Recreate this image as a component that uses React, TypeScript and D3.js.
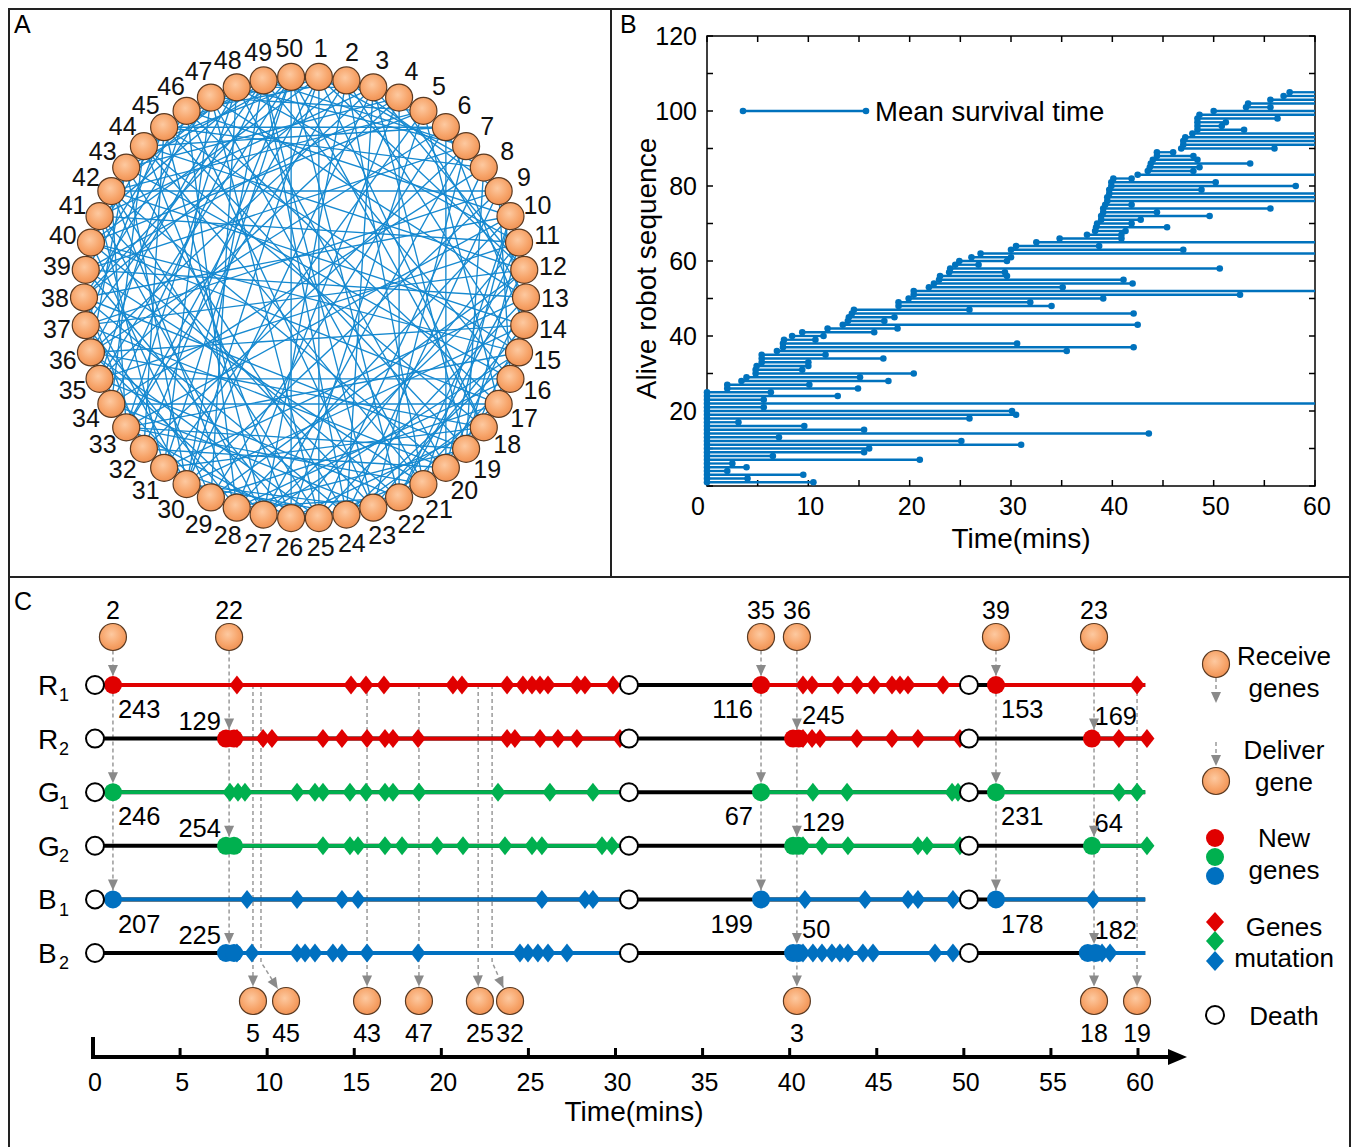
import React from "react";
import * as d3 from "d3";

const FONT = "'Liberation Sans', Arial, Helvetica, sans-serif";

// ---------------- Panel A data ----------------
const nodeIds: number[] = d3.range(1, 51);
const edgeList =
  "1-12 1-25 1-33 1-40 1-18 1-44 1-8 1-30 " +
  "2-15 2-27 2-38 2-21 2-46 2-33 2-9 " +
  "3-19 3-30 3-41 3-24 3-48 3-12 3-36 " +
  "4-22 4-35 4-13 4-28 4-43 4-39 " +
  "5-17 5-31 5-26 5-40 5-47 5-42 " +
  "6-20 6-36 6-29 6-44 6-14 6-45 " +
  "7-23 7-39 7-32 7-49 7-27 7-48 " +
  "8-25 8-34 8-45 8-19 8-11 " +
  "9-42 9-24 9-37 9-30 9-16 9-14 " +
  "10-28 10-38 10-21 10-46 10-33 10-20 " +
  "11-26 11-41 11-35 11-19 11-48 11-22 " +
  "12-29 12-44 12-37 12-22 12-27 " +
  "13-31 13-39 13-25 13-47 13-20 " +
  "14-30 14-42 14-36 14-23 14-19 " +
  "15-33 15-45 15-27 15-40 15-24 " +
  "16-35 16-28 16-43 16-49 16-22 " +
  "17-34 17-46 17-29 17-40 17-24 " +
  "18-36 18-31 18-44 18-50 18-26 " +
  "19-38 19-28 19-45 19-33 " +
  "20-37 20-42 20-32 20-48 20-25 " +
  "21-39 21-33 21-47 21-44 " +
  "22-40 22-35 22-50 22-28 " +
  "23-41 23-34 23-46 23-30 23-49 " +
  "24-43 24-38 24-49 24-30 " +
  "25-42 25-36 25-47 25-31 " +
  "26-44 26-39 26-50 26-33 " +
  "27-45 27-41 27-36 " +
  "28-46 28-37 28-42 " +
  "29-48 29-40 29-35 " +
  "30-49 30-43 30-38 " +
  "31-47 31-41 31-50 " +
  "32-50 32-45 32-38 " +
  "33-48 33-42 34-49 34-44 35-46 35-50 36-48 36-43 " +
  "37-49 37-45 38-47 38-50 39-46 40-45 41-49 42-48 43-50 44-49 45-50";
const edges: [number, number][] = edgeList
  .trim()
  .split(/\s+/)
  .map((s) => s.split("-").map(Number) as [number, number]);

// ---------------- Panel B data ----------------
const birthTimes = [
  0, 0, 0, 0, 0, 0, 0, 0, 0, 0, 0, 0, 0, 0, 0, 0, 0, 0, 0, 0, 0, 0, 0, 0, 0,
  2.0, 2.0, 3.4, 3.9, 4.8, 4.8, 4.9, 5.4, 5.4, 5.4, 6.9, 7.5, 7.5, 7.6, 8.4,
  9.4, 11.9, 13.4, 13.9, 14.0, 14.3, 14.5, 18.9, 18.9, 19.9, 20.4, 20.4, 21.9,
  22.4, 22.9, 23.0, 23.9, 24.0, 24.5, 24.9, 26.1, 27.0, 30.0, 30.5, 32.5, 34.8,
  37.5, 38.3, 38.4, 38.5, 38.9, 38.9, 39.1, 39.1, 39.3, 39.5, 39.5, 39.7, 39.7,
  39.9, 39.9, 40.1, 42.5, 43.5, 43.7, 43.8, 44.0, 44.4, 44.4, 46.8, 47.0, 47.0,
  47.2, 47.9, 48.4, 48.4, 48.4, 48.4, 48.6, 50.0, 53.2, 53.4, 55.6, 56.9, 57.5,
];
const deathTimes = [
  10.5, 4.0, 9.5, 2.0, 3.9, 2.5, 21.0, 6.5, 15.5, 16.0, 31.0, 25.1, 7.1, 43.6,
  15.5, 9.6, 3.1, 25.9, 30.5, 30.1, 5.6, 60, 5.6, 12.9, 6.3,
  14.9, 10.1, 17.9, 15.1, 20.4, 9.4, 10.0, 10.0, 17.4, 11.7, 35.5, 42.1, 30.6,
  10.7, 11.5, 16.5, 18.8, 42.5, 17.5, 18.5, 42.1, 25.9, 34.0, 31.9, 39.1, 52.6,
  60, 35.1, 42.0, 41.1, 29.6, 29.4, 50.6, 26.8, 29.6, 30.0, 60, 47.0, 38.7, 60,
  40.9, 40.9, 41.3, 45.4, 41.9, 42.8, 49.6, 44.4, 55.6, 41.9, 60, 60, 60, 48.8,
  58.1, 50.2, 41.9, 60, 48.0, 48.6, 53.6, 48.4, 48.0, 46.0, 56.0, 60, 60, 60,
  60, 53.0, 50.8, 51.2, 56.3, 60, 60, 55.6, 60, 60, 60, 60,
];
const xTicksLabB = [0, 10, 20, 30, 40, 50, 60];
const yTicksLabB = [20, 40, 60, 80, 100, 120];

// ---------------- Panel C data ----------------
const rowLetters = ["R", "R", "G", "G", "B", "B"];
const rowSubs = ["1", "2", "1", "2", "1", "2"];
const rowColors = ["#E00000", "#E00000", "#00B04F", "#00B04F", "#0070C0", "#0070C0"];
const deathTimesC = [0, 30.66, 50.18];
const endTimeC = 60.3;
const birthsOdd = [1.03, 38.24, 51.73];
const birthsEven = [7.52, 40.08, 57.1];
const newGeneTimes: number[][] = [
  [1.03, 38.24, 51.73],
  [7.52, 7.98, 40.08, 40.4, 57.24],
  [1.03, 38.24, 51.73],
  [7.52, 7.98, 40.08, 40.4, 57.24],
  [1.03, 38.24, 51.73],
  [7.52, 7.98, 40.08, 40.4, 57.0, 57.45],
];
const geneLabels: string[][] = [
  ["243", "116", "153"],
  ["129", "245", "169"],
  ["246", "67", "231"],
  ["254", "129", "64"],
  ["207", "199", "178"],
  ["225", "50", "182"],
];
const mutationTimes: number[][] = [
  [8.15, 14.7, 15.56, 16.59, 20.55, 21.07, 23.66, 24.57, 25.09, 25.55, 26.01, 27.67, 28.13, 29.74,
    40.65, 41.17, 42.66, 43.75, 44.73, 45.76, 46.22, 46.68, 48.69, 59.83],
  [8.15, 9.65, 10.16, 13.09, 14.18, 15.62, 16.65, 17.11, 18.55, 23.66, 24.11, 25.55, 26.58, 27.67,
    30.14, 40.65, 41.17, 41.63, 43.75, 45.76, 47.25, 49.66, 58.79, 60.4],
  [7.75, 8.21, 8.61, 11.6, 12.63, 13.09, 14.64, 15.56, 16.65, 17.11, 18.6, 23.14, 26.12, 28.59,
    41.22, 43.18, 49.21, 49.55, 58.79, 59.83],
  [13.09, 14.64, 15.1, 16.65, 17.63, 19.64, 21.13, 23.54, 25.09, 25.66, 29.11, 29.68, 40.65, 41.74,
    43.23, 47.25, 47.77, 49.66, 60.4],
  [8.73, 11.6, 14.18, 15.1, 25.66, 28.13, 28.59, 40.76, 44.21, 46.68, 47.25, 49.26, 57.3],
  [8.15, 9.01, 11.6, 12.06, 12.63, 13.66, 14.18, 15.62, 18.55, 24.4, 24.86, 25.43, 26.01, 27.1,
    40.65, 41.22, 41.74, 42.31, 42.77, 43.23, 44.09, 44.67, 48.23, 49.26, 57.82, 58.28],
];
// donors at top: label, time, target parity (0 = rows 1, 1 = rows 2), bottom receiver label
const topLabels = ["2", "22", "35", "36", "39", "23"];
const topTimes = [1.03, 7.7, 38.24, 40.3, 51.73, 57.36];
const topParity = [0, 1, 0, 1, 0, 1];
const topContinuesTo = ["", "", "", "3", "", "18"];
// receivers at bottom fed from R1 downwards
const botLabels = ["5", "45", "43", "47", "25", "32", "3", "18", "19"];
const botLineTimes = [9.07, 9.53, 15.62, 18.6, 22.0, 22.8, 40.3, 57.36, 59.83];
const botCircleTimes = [9.07, 10.97, 15.62, 18.6, 22.1, 23.83, 40.3, 57.36, 59.83];
const xTicksC = d3.range(0, 61, 5);

// ---------------- geometry ----------------
const W = 1360;
const H = 1147;
const ORANGE_STROKE = "#5a3a22";
const DASH = "#9a9a9a";

const cxA = 305;
const cyA = 297.5;
const RA = 221;
const angleA = d3.scaleLinear().domain([0.5, 50.5]).range([0, 2 * Math.PI]);
const nodePos = (k: number) => {
  const a = angleA(k);
  return [cxA + RA * Math.sin(a), cyA - RA * Math.cos(a)];
};
const labelPos = (k: number) => {
  const a = angleA(k);
  return [cxA + 250 * Math.sin(a), cyA - 250 * Math.cos(a)];
};

const xB = d3.scaleLinear().domain([0, 60]).range([707, 1315]);
const yB = d3.scaleLinear().domain([0, 120]).range([486, 36]);

const xC = d3.scaleLinear().domain([0, 60]).range([95, 1140]);
const yRow = d3.scaleLinear().domain([0, 5]).range([685, 953]);
const topCircleY = 637;
const botCircleY = 1001;
const circR = 13.5;
const axisY = 1057;

function arrowHead(tx: number, ty: number, ang: number, key: string) {
  const L = 11;
  const Wd = 5;
  const dx = Math.cos(ang);
  const dy = Math.sin(ang);
  const bx = tx - L * dx;
  const by = ty - L * dy;
  const pts = [
    [tx, ty],
    [bx - Wd * dy, by + Wd * dx],
    [bx + Wd * dy, by - Wd * dx],
  ];
  return <polygon key={key} points={pts.map((p) => p.join(",")).join(" ")} fill="#8a8a8a" />;
}

function diamond(x: number, y: number, color: string, key: string, sx = 7.5, sy = 9.5) {
  return (
    <path key={key} d={`M${x},${y - sy} L${x + sx},${y} L${x},${y + sy} L${x - sx},${y} Z`} fill={color} />
  );
}

function OrangeNode({ x, y, r = circR }: { x: number; y: number; r?: number }) {
  return <circle cx={x} cy={y} r={r} fill="url(#orangeGrad)" stroke={ORANGE_STROKE} strokeWidth={1.2} />;
}

function PanelA() {
  return (
    <g>
      {edges.map(([a, b], i) => {
        const [x1, y1] = nodePos(a);
        const [x2, y2] = nodePos(b);
        return <line key={i} x1={x1} y1={y1} x2={x2} y2={y2} stroke="#1689D0" strokeWidth={1.35} />;
      })}
      {nodeIds.map((k) => {
        const [x, y] = nodePos(k);
        return <OrangeNode key={k} x={x} y={y} />;
      })}
      {nodeIds.map((k) => {
        const [x, y] = labelPos(k);
        return (
          <text key={"l" + k} x={x} y={y} dy="0.36em" textAnchor="middle" fontSize={25} fill="#111">
            {k}
          </text>
        );
      })}
    </g>
  );
}

function PanelB() {
  const blue = "#0072BD";
  const xt = d3.range(0, 61, 5);
  const yt = d3.range(0, 121, 10);
  return (
    <g>
      <rect x={xB(0)} y={yB(120)} width={xB(60) - xB(0)} height={yB(0) - yB(120)} fill="none" stroke="#000" strokeWidth={1.5} />
      {xt.map((t) => (
        <g key={"xt" + t}>
          <line x1={xB(t)} x2={xB(t)} y1={yB(0)} y2={yB(0) - 6} stroke="#000" strokeWidth={1.5} />
          <line x1={xB(t)} x2={xB(t)} y1={yB(120)} y2={yB(120) + 6} stroke="#000" strokeWidth={1.5} />
        </g>
      ))}
      {yt.map((v) => (
        <g key={"yt" + v}>
          <line x1={xB(0)} x2={xB(0) + 6} y1={yB(v)} y2={yB(v)} stroke="#000" strokeWidth={1.5} />
          <line x1={xB(60)} x2={xB(60) - 6} y1={yB(v)} y2={yB(v)} stroke="#000" strokeWidth={1.5} />
        </g>
      ))}
      {birthTimes.map((b, i) => {
        const y = yB(i + 1);
        const d = deathTimes[i];
        return (
          <g key={"s" + i}>
            <line x1={xB(b)} x2={xB(d)} y1={y} y2={y} stroke={blue} strokeWidth={2.3} />
            <circle cx={xB(b)} cy={y} r={3.3} fill={blue} />
            {d < 60 && <circle cx={xB(d)} cy={y} r={3.3} fill={blue} />}
          </g>
        );
      })}
      {xTicksLabB.map((t) => (
        <text key={"xl" + t} x={t === 0 ? xB(t) - 9 : xB(t) + 2} y={yB(0) + 20} dy="0.36em" textAnchor="middle" fontSize={25}>
          {t}
        </text>
      ))}
      {yTicksLabB.map((v) => (
        <text key={"yl" + v} x={xB(0) - 10} y={yB(v)} dy="0.36em" textAnchor="end" fontSize={25}>
          {v}
        </text>
      ))}
      <text x={xB(30) + 10} y={538} dy="0.36em" textAnchor="middle" fontSize={28}>
        Time(mins)
      </text>
      <text transform={`translate(646,${yB(58)}) rotate(-90)`} dy="0.36em" textAnchor="middle" fontSize={28}>
        Alive robot sequence
      </text>
      <line x1={743} x2={866} y1={yB(100)} y2={yB(100)} stroke={blue} strokeWidth={2.3} />
      <circle cx={743} cy={yB(100)} r={3.3} fill={blue} />
      <circle cx={866} cy={yB(100)} r={3.3} fill={blue} />
      <text x={875} y={yB(100)} dy="0.36em" fontSize={27.5}>
        Mean survival time
      </text>
    </g>
  );
}

function PanelC() {
  const dashed: React.ReactNode[] = [];
  const arrows: React.ReactNode[] = [];
  const circles: React.ReactNode[] = [];
  const lastRowY = (p: number) => yRow(p === 0 ? 4 : 5);

  topLabels.forEach((lab, i) => {
    const x = xC(topTimes[i]);
    const cont = topContinuesTo[i];
    const endY = cont ? botCircleY - circR - 1 : lastRowY(topParity[i]) - 9;
    dashed.push(
      <line key={"td" + i} x1={x} x2={x} y1={topCircleY + circR} y2={endY} stroke={DASH} strokeWidth={1.5} strokeDasharray="4,3" />
    );
    [0, 2, 4].forEach((r) => {
      const ry = yRow(r + topParity[i]);
      arrows.push(arrowHead(x, ry - 9, Math.PI / 2, `ta${i}-${r}`));
    });
    circles.push(<OrangeNode key={"tc" + i} x={x} y={topCircleY} />);
    circles.push(
      <text key={"tl" + i} x={x} y={topCircleY - 27} dy="0.36em" textAnchor="middle" fontSize={25}>
        {lab}
      </text>
    );
  });

  botLabels.forEach((lab, i) => {
    const x0 = xC(botLineTimes[i]);
    const cx = xC(botCircleTimes[i]);
    const fromTop = topContinuesTo.includes(lab);
    if (!fromTop) {
      if (Math.abs(cx - x0) < 1) {
        dashed.push(
          <line key={"bd" + i} x1={x0} x2={x0} y1={yRow(0)} y2={botCircleY - circR - 1} stroke={DASH} strokeWidth={1.5} strokeDasharray="4,3" />
        );
      } else {
        const yb = 962;
        const ang = Math.atan2(botCircleY - yb, cx - x0);
        const tx = cx - circR * Math.cos(ang) - 1;
        const ty = botCircleY - circR * Math.sin(ang) - 1;
        dashed.push(
          <polyline
            key={"bd" + i}
            points={`${x0},${yRow(0)} ${x0},${yb} ${tx},${ty}`}
            fill="none"
            stroke={DASH}
            strokeWidth={1.5}
            strokeDasharray="4,3"
          />
        );
        arrows.push(arrowHead(tx, ty, ang, "ba" + i));
        circles.push(<OrangeNode key={"bc" + i} x={cx} y={botCircleY} />);
        circles.push(
          <text key={"bl" + i} x={cx} y={botCircleY + 32} dy="0.36em" textAnchor="middle" fontSize={25}>
            {lab}
          </text>
        );
        return;
      }
    }
    arrows.push(arrowHead(cx, botCircleY - circR - 1, Math.PI / 2, "ba" + i));
    circles.push(<OrangeNode key={"bc" + i} x={cx} y={botCircleY} />);
    circles.push(
      <text key={"bl" + i} x={cx} y={botCircleY + 32} dy="0.36em" textAnchor="middle" fontSize={25}>
        {lab}
      </text>
    );
  });

  const rows = rowLetters.map((letter, r) => {
    const y = yRow(r);
    const col = rowColors[r];
    const births = r % 2 === 0 ? birthsOdd : birthsEven;
    const segEnds = [deathTimesC[1], deathTimesC[2], endTimeC];
    return (
      <g key={"row" + r}>
        <line x1={xC(0)} x2={xC(endTimeC)} y1={y} y2={y} stroke="#000" strokeWidth={4} />
        {births.map((b, j) => (
          <line key={"seg" + j} x1={xC(b)} x2={xC(segEnds[j])} y1={y} y2={y} stroke={col} strokeWidth={3.8} />
        ))}
        {mutationTimes[r].map((t, j) => diamond(xC(t), y, col, "m" + j))}
        {newGeneTimes[r].map((t, j) => (
          <circle key={"ng" + j} cx={xC(t)} cy={y} r={9} fill={col} />
        ))}
        {deathTimesC.map((t, j) => (
          <circle key={"dc" + j} cx={xC(t)} cy={y} r={9} fill="#fff" stroke="#000" strokeWidth={2} />
        ))}
        <text x={38} y={y} dy="0.36em" fontSize={28}>
          {letter}
        </text>
        <text x={59} y={y + 10} dy="0.36em" fontSize={18}>
          {rowSubs[r]}
        </text>
        {births.map((b, j) => {
          const bx = xC(b);
          const odd = r % 2 === 0;
          let lx: number, ly: number, anchor: string;
          if (odd) {
            if (j === 1) {
              lx = bx - 8; ly = y + 24; anchor = "end";
            } else {
              lx = bx + 5; ly = y + 24; anchor = "start";
            }
          } else {
            if (j === 0) {
              lx = bx - 5; ly = y - 18; anchor = "end";
            } else if (j === 1) {
              lx = bx + 9; ly = y - 24; anchor = "start";
            } else {
              lx = bx + 5; ly = y - 23; anchor = "start";
            }
          }
          return (
            <text key={"gl" + j} x={lx} y={ly} dy="0.36em" textAnchor={anchor} fontSize={25.5}>
              {geneLabels[r][j]}
            </text>
          );
        })}
      </g>
    );
  });

  // legend
  const lx = 1215;
  const tx = 1284;
  const legend = (
    <g>
      <OrangeNode x={lx + 1} y={664} />
      <line x1={lx + 1} x2={lx + 1} y1={678} y2={700} stroke={DASH} strokeWidth={1.5} strokeDasharray="4,3" />
      {arrowHead(lx + 1, 703, Math.PI / 2, "lg1")}
      <text x={tx} y={656} dy="0.36em" textAnchor="middle" fontSize={26}>Receive</text>
      <text x={tx} y={688} dy="0.36em" textAnchor="middle" fontSize={26}>genes</text>
      <line x1={lx + 1} x2={lx + 1} y1={742} y2={762} stroke={DASH} strokeWidth={1.5} strokeDasharray="4,3" />
      {arrowHead(lx + 1, 766, Math.PI / 2, "lg2")}
      <OrangeNode x={lx + 1} y={781} />
      <text x={tx} y={750} dy="0.36em" textAnchor="middle" fontSize={26}>Deliver</text>
      <text x={tx} y={782} dy="0.36em" textAnchor="middle" fontSize={26}>gene</text>
      <circle cx={lx} cy={838} r={9} fill={rowColors[0]} />
      <circle cx={lx} cy={857} r={9} fill={rowColors[2]} />
      <circle cx={lx} cy={876} r={9} fill={rowColors[4]} />
      <text x={tx} y={838} dy="0.36em" textAnchor="middle" fontSize={26}>New</text>
      <text x={tx} y={870} dy="0.36em" textAnchor="middle" fontSize={26}>genes</text>
      {diamond(lx, 922, rowColors[0], "ld1", 9, 10)}
      {diamond(lx, 941, rowColors[2], "ld2", 9, 10)}
      {diamond(lx, 961, rowColors[4], "ld3", 9, 10)}
      <text x={tx} y={927} dy="0.36em" textAnchor="middle" fontSize={26}>Genes</text>
      <text x={tx} y={958} dy="0.36em" textAnchor="middle" fontSize={26}>mutation</text>
      <circle cx={lx} cy={1015} r={9} fill="#fff" stroke="#000" strokeWidth={2} />
      <text x={tx} y={1016} dy="0.36em" textAnchor="middle" fontSize={26}>Death</text>
    </g>
  );

  // axis
  const axis = (
    <g>
      <line x1={93} x2={1172} y1={axisY} y2={axisY} stroke="#000" strokeWidth={4} />
      <line x1={93} x2={93} y1={axisY - 20} y2={axisY + 2} stroke="#000" strokeWidth={4} />
      <polygon points={`1187,${axisY} 1168,${axisY - 8} 1168,${axisY + 8}`} fill="#000" />
      {xTicksC.slice(1).map((t) => (
        <line key={"ct" + t} x1={xC(t) - 2} x2={xC(t) - 2} y1={axisY} y2={axisY - 9} stroke="#000" strokeWidth={3} />
      ))}
      {xTicksC.map((t) => (
        <text key={"cl" + t} x={xC(t)} y={axisY + 25} dy="0.36em" textAnchor="middle" fontSize={25}>
          {t}
        </text>
      ))}
      <text x={634} y={1111} dy="0.36em" textAnchor="middle" fontSize={28}>
        Time(mins)
      </text>
    </g>
  );

  return (
    <g>
      {dashed}
      {rows}
      {arrows}
      {circles}
      {legend}
      {axis}
    </g>
  );
}

export default function App() {
  return (
    <svg
      width={W}
      height={H}
      viewBox={`0 0 ${W} ${H}`}
      style={{ position: "absolute", left: 0, top: 0, background: "#fff" }}
      fontFamily={FONT}
    >
      <defs>
        <radialGradient id="orangeGrad" cx="45%" cy="40%" r="65%">
          <stop offset="0%" stopColor="#FDC9A0" />
          <stop offset="60%" stopColor="#F7A56B" />
          <stop offset="100%" stopColor="#EE8E50" />
        </radialGradient>
      </defs>
      <rect x={0} y={0} width={W} height={H} fill="#fff" />
      <rect x={9} y={9} width={1341} height={1150} fill="none" stroke="#222" strokeWidth={2} />
      <line x1={611} x2={611} y1={9} y2={577} stroke="#222" strokeWidth={2} />
      <line x1={9} x2={1350} y1={577} y2={577} stroke="#222" strokeWidth={2} />
      <text x={14} y={33} fontSize={25}>A</text>
      <text x={620} y={33} fontSize={25}>B</text>
      <text x={14} y={610} fontSize={25}>C</text>
      <PanelA />
      <PanelB />
      <PanelC />
    </svg>
  );
}
